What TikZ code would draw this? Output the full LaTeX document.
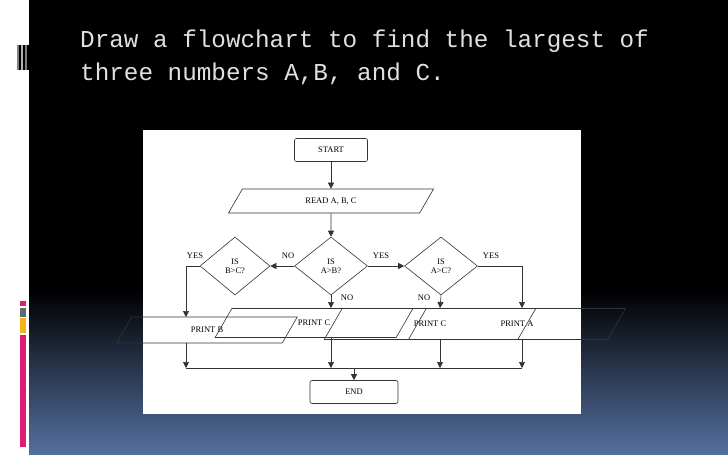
\documentclass[tikz,border=0pt]{standalone}
\usepackage{fontspec}
\setmainfont{Liberation Serif}
\newfontfamily\titlefont{Liberation Mono}
\usetikzlibrary{shapes.geometric,arrows.meta}
\definecolor{bgblue}{RGB}{85,112,160}
\definecolor{pinkc}{RGB}{220,30,120}
\definecolor{grayc}{RGB}{95,105,120}
\definecolor{yellc}{RGB}{245,180,20}
\begin{document}
\begin{tikzpicture}[x=1pt,y=-1pt,
  fc/.style={draw=black!80,line width=0.6pt,font=\fontsize{8.5}{9}\selectfont,inner sep=0pt},
  io/.style={fc,trapezium,trapezium left angle=60,trapezium right angle=120,minimum height=24pt},
  dec/.style={fc,diamond,align=center},
  term/.style={fc,rounded corners=2pt,rectangle},
  ar/.style={draw=black!80,line width=0.6pt,-{Triangle[length=6pt,width=6pt]}},
  ln/.style={draw=black!80,line width=0.6pt},
  lab/.style={font=\fontsize{8.5}{9}\selectfont,inner sep=0pt}]
\useasboundingbox (0,0) rectangle (728,455);
\fill[black] (29,0) rectangle (728,291);
\shade[top color=black,bottom color=bgblue] (29,290) rectangle (728,455);
\fill[white] (0,0) rectangle (29,455);
% left decorations
\foreach \x/\c in {17/gray,19/black,21/gray!60,23/black,25/gray,27/black}{\fill[\c] (\x,45) rectangle (\x+2,70);}
\fill[pinkc] (20,301) rectangle (26,306);
\fill[grayc] (20,308) rectangle (26,317);
\fill[yellc] (20,318) rectangle (26,333);
\fill[pinkc] (20,335) rectangle (26,447);
% title
\node[anchor=base west,text=white!88!black,font=\titlefont\fontsize{24.3}{28}\selectfont,inner sep=0pt] (t1) at (80,47) {Draw a flowchart to find the largest of};
\node[anchor=base west,text=white!88!black,font=\titlefont\fontsize{24.3}{28}\selectfont,inner sep=0pt] (t2) at (80,80) {three numbers A,B, and C.};
% panel
\fill[white] (143,130) rectangle (581,414);
% nodes
\node[term,minimum width=73pt,minimum height=23pt] (start) at (331,150) {START};
\node[io,minimum width=110pt] (read) at (331,201) {READ A, B, C};
\node[dec,minimum width=73pt,minimum height=58pt] (ab) at (331,266) {IS\\A>B?};
\node[dec,minimum width=70pt,minimum height=58pt] (bc) at (235,266) {IS\\B>C?};
\node[dec,minimum width=73pt,minimum height=58pt] (ac) at (441,266) {IS\\A>C?};
\node[io,minimum width=70pt,minimum height=26pt] (pb) at (207,330) {PRINT B};
\node[io,minimum width=76pt,minimum height=29pt] (pc1) at (314,323) {PRINT C};
\node[io,minimum width=78pt,minimum height=31pt] (pc2) at (430,324) {PRINT C};
\node[io,minimum width=76pt,minimum height=31pt] (pa) at (517,324) {PRINT A};
\node[term,minimum width=88pt,minimum height=23pt] (end) at (354,392) {END};
\coordinate (j1) at (186,368);
\coordinate (j4) at (522,368);
\coordinate (jm) at (354,368);
% connectors
\draw[ar] (start) -- (read);
\draw[ar] (read) -- (ab);
\draw[ar] (ab.west) -- (bc.east);
\draw[ar] (ab.east) -- (ac.west);
\draw[ar] (ab.south) -- (331,308);
\draw[ar] (ac.south) -- (440,308);
\draw[ar] (ac.east) -| (522,308);
\draw[ar] (bc.west) -| (186,317);
\draw[ln] (j1) -- (j4);
\draw[ar] (186,343) -- (j1);
\draw[ar] (331,338) -- (331,368);
\draw[ar] (440,340) -- (440,368);
\draw[ar] (522,340) -- (j4);
\draw[ar] (jm) -- (end);
% labels
\node[lab] (l1) at (195,256) {YES};
\node[lab] (l2) at (288,256) {NO};
\node[lab] (l3) at (381,256) {YES};
\node[lab] (l4) at (347,298) {NO};
\node[lab] (l5) at (424,298) {NO};
\node[lab] (l6) at (491,256) {YES};
\end{tikzpicture}
\end{document}
